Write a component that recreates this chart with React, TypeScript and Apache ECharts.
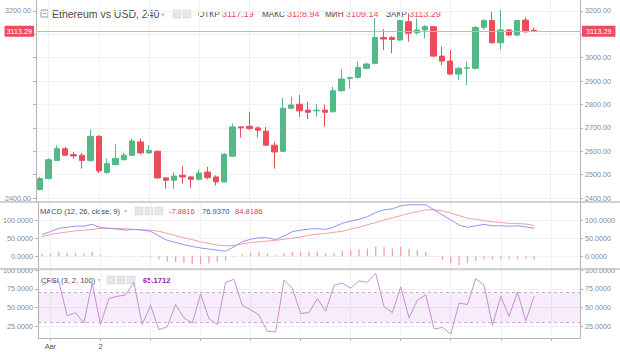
import React, { useEffect, useRef } from 'react';
import * as echarts from 'echarts';

// ---- data (4h candles, ETH/USD) ----
const opens = [2437, 2483, 2561, 2611, 2586, 2583, 2561, 2664, 2509, 2543, 2564, 2583, 2640, 2593, 2600, 2486, 2476, 2497, 2490, 2480, 2511, 2490, 2469, 2579, 2704, 2707, 2700, 2686, 2626, 2600, 2784, 2801, 2776, 2773, 2776, 2769, 2859, 2912, 2916, 2955, 2976, 3087, 3087, 3076, 3154, 3107, 3119, 3133, 3007, 2986, 2930, 2955, 2955, 3130, 3159, 3064, 3119, 3097, 3161, 3117.19];
const closes = [2483, 2564, 2611, 2583, 2580, 2561, 2664, 2516, 2547, 2569, 2583, 2644, 2593, 2604, 2486, 2476, 2494, 2490, 2480, 2507, 2487, 2469, 2587, 2704, 2700, 2697, 2690, 2626, 2597, 2784, 2798, 2773, 2767, 2776, 2767, 2859, 2909, 2916, 2958, 2973, 3087, 3080, 3078, 3159, 3105, 3119, 3133, 3007, 2986, 2930, 2955, 2957, 3130, 3159, 3064, 3119, 3097, 3159, 3111, 3113.29];
const lows = [2432, 2480, 2558, 2580, 2569, 2526, 2555, 2507, 2504, 2540, 2561, 2580, 2586, 2588, 2484, 2440, 2440, 2461, 2444, 2476, 2480, 2454, 2466, 2576, 2659, 2692, 2659, 2624, 2526, 2597, 2780, 2748, 2738, 2748, 2705, 2765, 2855, 2869, 2912, 2950, 2972, 3033, 3019, 3072, 3069, 3100, 3083, 3003, 2969, 2926, 2905, 2883, 2950, 3120, 3060, 3036, 3093, 3092, 3107, 3109.14];
const highs = [2490, 2570, 2626, 2619, 2597, 2593, 2693, 2668, 2569, 2630, 2593, 2654, 2654, 2626, 2603, 2490, 2511, 2536, 2494, 2521, 2533, 2497, 2593, 2719, 2707, 2769, 2707, 2704, 2640, 2827, 2833, 2841, 2812, 2802, 2800, 2876, 2950, 2918, 2983, 2980, 3169, 3122, 3092, 3162, 3190, 3169, 3140, 3136, 3047, 3033, 2960, 2983, 3136, 3165, 3197, 3204, 3122, 3163, 3173, 3128.94];

const macdLine = [60, 68, 77, 80, 83, 83, 88, 79, 77, 75, 72, 74, 72, 69, 56, 44, 38, 32, 27, 23, 20, 17, 14, 26, 40, 47, 51, 51, 46, 56, 68, 72, 75, 76, 74, 81, 91, 97, 102, 109, 121, 128, 131, 139, 142, 142, 142, 128, 114, 100, 86, 80, 84, 88, 84, 84, 83, 84, 81, 76.937];
const signalLine = [54, 60, 64, 67, 70, 72, 74, 77, 77, 77, 76, 74, 73, 72, 69, 63, 57, 51, 46, 40, 35, 31, 29, 30, 34, 38, 40, 42, 44, 47, 50, 53, 58, 61, 63, 66, 69, 75, 80, 87, 93, 100, 106, 112, 118, 123, 128, 128, 125, 119, 112, 105, 102, 98, 95, 93, 91, 90, 89, 84.8186];
const histogram = [6, 7, 12, 10, 9, 8, 12, 4, 1, 0, -1, 1, -1, -3, -8, -14, -16, -18, -22, -22, -19, -15, -12, -2, 5, 9, 12, 8, 3, 8, 12, 12, 13, 12, 7, 10, 15, 17, 19, 21, 26, 26, 21, 26, 21, 17, 12, 1, -10, -19, -25, -19, -12, -8, -8, -8, -7, -7, -7, -7.8816];
const crsi = [80, 86, 85, 39, 43, 29, 83, 27, 62, 65, 67, 84, 27, 53, 20, 24, 54, 36, 29, 68, 35, 27, 84, 88, 53, 47, 40, 18, 17, 87, 76, 42, 43, 62, 45, 80, 83, 76, 86, 84, 96, 51, 43, 78, 36, 60, 67, 21, 23, 14, 56, 54, 89, 80, 26, 65, 38, 71, 32, 65.1712];

const slotCount = 65;
const slots = Array.from({ length: slotCount }, (_, i) => String(i));

const priceTicks = [2400, 2500, 2600, 2700, 2800, 2900, 3000, 3100, 3200];
const priceLabelsRight = [2400, 2500, 2600, 2700, 2800, 2900, 3000, 3200];
const priceLabelsLeft = [3200, 2400];
const macdTicks = [0, 50, 100];
const rsiTicks = [25, 50, 75, 100];
const dayTicks = [1, 7, 13, 19, 25, 31, 37, 43, 49, 55, 61];
const dayLabelPos = [1, 7];
const dayLabelText = ['Авг', '2'];
const lastPrice = 3113.29;
const ohlcNames = ['ОТКР', 'МАКС', 'МИН', 'ЗАКР'];
const ohlcValues = ['3117.19', '3128.94', '3109.14', '3113.29'];
const macdLegendValues = ['-7.8816', '76.9370', '84.8186'];
const crsiLegendValue = '65.1712';

const UP = '#53b987';
const DOWN = '#eb4d5c';
const FONT = '"Liberation Sans", Arial, sans-serif';
const AXIS_COLOR = '#b4b4b4';
const LABEL_COLOR = '#8a8a8a';
const GRID_COLOR = '#eff1f5';

function yAx(grid: number, pos: string, min: number, max: number, ticks: number[], labels: number[] | null, dec: number, split: boolean) {
  return {
    type: 'value', gridIndex: grid, position: pos, min, max,
    axisLine: { show: true, onZero: false, lineStyle: { color: AXIS_COLOR } },
    axisTick: { show: true, length: 3, customValues: ticks, lineStyle: { color: AXIS_COLOR } },
    axisLabel: {
      show: !!labels,
      customValues: labels || ticks,
      formatter: (v: number) => v.toFixed(dec),
      color: LABEL_COLOR, fontSize: 7.2, fontFamily: FONT, margin: 5,
    },
    splitLine: { show: split, lineStyle: { color: GRID_COLOR } },
  };
}

function xCat(grid: number) {
  return { type: 'category', gridIndex: grid, data: slots, boundaryGap: true, show: false, position: 'bottom', axisLine: { onZero: false } };
}

function xVal(grid: number, bottom: boolean) {
  return {
    type: 'value', gridIndex: grid, min: -0.5, max: slotCount - 0.5, position: 'bottom',
    axisLine: { show: bottom, onZero: false, lineStyle: { color: AXIS_COLOR } },
    axisTick: { show: bottom, length: 3, customValues: dayTicks, lineStyle: { color: AXIS_COLOR } },
    axisLabel: {
      show: bottom, customValues: dayLabelPos,
      formatter: (v: number) => dayLabelText[dayLabelPos.indexOf(v)] || '',
      color: '#555', fontSize: 7.5, fontFamily: FONT, margin: 4,
    },
    splitLine: { show: true, lineStyle: { color: GRID_COLOR } },
  };
}

function legendIcons(x0: number, y: number, n: number) {
  const arr: any[] = [];
  for (let k = 0; k < n; k++) {
    arr.push({ type: 'rect', shape: { x: x0 + k * 10, y: y - 4, width: 8, height: 8 }, style: { fill: '#e6e6e6', stroke: '#d0d0d0', lineWidth: 0.5 } });
  }
  return arr;
}

export default function App() {
  const ref = useRef<HTMLDivElement>(null);
  useEffect(() => {
    if (!ref.current) return;
    const chart = echarts.init(ref.current, undefined, { renderer: 'svg' });
    const ohlcLabelX = [198, 262, 325, 386];
    const ohlcValueX = [222, 287, 346, 409];
    const graphics: any[] = [
      { type: 'line', shape: { x1: 0, y1: 202, x2: 620, y2: 202 }, style: { stroke: '#c2c2c2', lineWidth: 1.5 }, z: 50 },
      { type: 'line', shape: { x1: 0, y1: 269, x2: 620, y2: 269 }, style: { stroke: '#c2c2c2', lineWidth: 1.5 }, z: 50 },
      { type: 'rect', shape: { x: 41, y: 10, width: 7, height: 7 }, style: { fill: 'none', stroke: '#999', lineWidth: 1 } },
      { type: 'line', shape: { x1: 43, y1: 13.5, x2: 46, y2: 13.5 }, style: { stroke: '#999', lineWidth: 1 } },
      { type: 'text', x: 52, y: 14, style: { text: 'Ethereum vs USD, 240', fill: '#4a4a4a', fontSize: 10.5, fontFamily: FONT, verticalAlign: 'middle' } },
      { type: 'text', x: 161, y: 14, style: { text: '▾', fill: '#bbb', fontSize: 7, fontFamily: FONT, verticalAlign: 'middle' } },
      ...legendIcons(173, 14, 2),
      ...ohlcNames.map((t, k) => ({ type: 'text', x: ohlcLabelX[k], y: 14, style: { text: t, fill: '#4a4a4a', fontSize: 8.2, fontFamily: FONT, verticalAlign: 'middle' } })),
      ...ohlcValues.map((t, k) => ({ type: 'text', x: ohlcValueX[k], y: 14, style: { text: t, fill: DOWN, fontSize: 9, fontFamily: FONT, verticalAlign: 'middle' } })),
      { type: 'text', x: 40, y: 211, style: { text: 'MACD (12, 26, close, 9)', fill: '#4a4a4a', fontSize: 7.5, fontFamily: FONT, verticalAlign: 'middle' } },
      { type: 'text', x: 124, y: 211, style: { text: '▾', fill: '#bbb', fontSize: 6, fontFamily: FONT, verticalAlign: 'middle' } },
      ...legendIcons(135, 211, 3),
      { type: 'text', x: 169, y: 211, style: { text: macdLegendValues[0], fill: '#e0404f', fontSize: 7.6, fontFamily: FONT, verticalAlign: 'middle' } },
      { type: 'text', x: 202, y: 211, style: { text: macdLegendValues[1], fill: '#3b3bd6', fontSize: 7.6, fontFamily: FONT, verticalAlign: 'middle' } },
      { type: 'text', x: 235, y: 211, style: { text: macdLegendValues[2], fill: '#e0404f', fontSize: 7.6, fontFamily: FONT, verticalAlign: 'middle' } },
      { type: 'text', x: 41, y: 280, style: { text: 'CRSI (3, 2, 100)', fill: '#4a4a4a', fontSize: 7.5, fontFamily: FONT, verticalAlign: 'middle' } },
      { type: 'text', x: 98, y: 280, style: { text: '▾', fill: '#bbb', fontSize: 6, fontFamily: FONT, verticalAlign: 'middle' } },
      ...legendIcons(107, 280, 3),
      { type: 'text', x: 143, y: 280, style: { text: crsiLegendValue, fill: '#8e24aa', fontSize: 7.6, fontFamily: FONT, fontWeight: 'bold', verticalAlign: 'middle' } },
    ];

    const tagLabel = (pos: string, pad: number[]) => ({
      show: true, position: pos, distance: 2,
      formatter: () => lastPrice.toFixed(2),
      color: '#fff', backgroundColor: DOWN, padding: pad, fontSize: 7.2, fontFamily: FONT,
    });

    chart.setOption({
      animation: false,
      backgroundColor: '#ffffff',
      grid: [
        { left: 36, right: 40, top: 0, height: 202 },
        { left: 36, right: 40, top: 202, height: 67 },
        { left: 36, right: 40, top: 269, height: 69 },
      ],
      xAxis: [xCat(0), xCat(1), xCat(2), xVal(0, false), xVal(1, false), xVal(2, true)],
      yAxis: [
        yAx(0, 'right', 2383, 3247, priceTicks, priceLabelsRight, 2, true),
        yAx(0, 'left', 2383, 3247, priceTicks, null, 2, false),
        yAx(1, 'right', -35, 149.6, macdTicks, macdTicks, 4, true),
        yAx(1, 'left', -35, 149.6, macdTicks, macdTicks, 4, false),
        yAx(2, 'right', 8.8, 102, rsiTicks, rsiTicks, 4, true),
        yAx(2, 'left', 8.8, 102, rsiTicks, rsiTicks, 4, false),
      ],
      series: [
        {
          type: 'candlestick', xAxisIndex: 0, yAxisIndex: 0, barWidth: '70%', clip: false,
          data: opens.map((o, i) => [o, closes[i], lows[i], highs[i]]),
          itemStyle: { color: UP, color0: DOWN, borderColor: UP, borderColor0: DOWN, borderWidth: 1 },
          markLine: {
            silent: true, symbol: ['none', 'none'],
            lineStyle: { color: '#f2a3ab', width: 1, type: 'solid' },
            data: [
              { yAxis: lastPrice, label: tagLabel('start', [2, 2, 2, 2]) },
              { yAxis: lastPrice, label: tagLabel('end', [2, 4, 2, 4]) },
            ],
          },
        },
        { type: 'bar', xAxisIndex: 1, yAxisIndex: 2, data: histogram, barWidth: 1.3, itemStyle: { color: '#f3a0a0' } },
        { type: 'line', xAxisIndex: 1, yAxisIndex: 2, data: signalLine, showSymbol: false, lineStyle: { color: '#f2a0a0', width: 1 } },
        { type: 'line', xAxisIndex: 1, yAxisIndex: 2, data: macdLine, showSymbol: false, lineStyle: { color: '#9393f3', width: 1 } },
        {
          type: 'line', xAxisIndex: 2, yAxisIndex: 4, data: crsi, showSymbol: false,
          lineStyle: { color: '#c98ed6', width: 1 },
          markArea: { silent: true, itemStyle: { color: 'rgba(190,110,210,0.13)' }, data: [[{ yAxis: 30 }, { yAxis: 70 }]] },
          markLine: {
            silent: true, symbol: ['none', 'none'], label: { show: false },
            lineStyle: { color: '#cfa3d8', width: 1, type: [3, 3] },
            data: [{ yAxis: 30 }, { yAxis: 70 }],
          },
        },
      ],
      graphic: graphics,
    });

    // sparse left-hand price labels, placed through the price axis' own scale
    const leftLabels = priceLabelsLeft.map((v) => ({
      type: 'text', x: 31,
      y: chart.convertToPixel({ yAxisIndex: 1 }, v) as number,
      style: { text: v.toFixed(2), fill: LABEL_COLOR, fontSize: 7.2, fontFamily: FONT, align: 'right', verticalAlign: 'middle' },
    }));
    chart.setOption({ graphic: [...graphics, ...leftLabels] });

    return () => chart.dispose();
  }, []);
  return <div ref={ref} style={{ position: 'absolute', left: 0, top: 0, width: 620, height: 352 }} />;
}
